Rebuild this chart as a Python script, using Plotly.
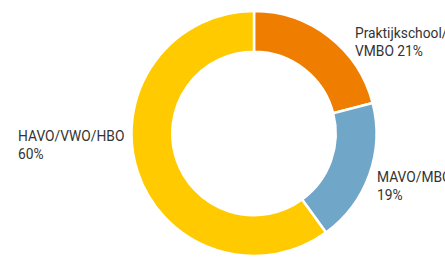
import plotly.graph_objects as go

categories = ["Praktijkschool/", "MAVO/MBO", "HAVO/VWO/HBO"]
label_line2 = ["VMBO {v}%", "{v}%", "{v}%"]
values = [21, 19, 60]
colors = ["#ef7d00", "#70a6c8", "#ffcb00"]

W, H = 445, 260
cx, cy, r = 254, 133.5, 122.5

fig = go.Figure(go.Pie(
    labels=categories, values=values, sort=False, direction="clockwise",
    rotation=0, hole=0.667, textinfo="none", hoverinfo="label+percent",
    marker=dict(colors=colors, line=dict(color="white", width=2.5)),
    domain=dict(x=[(cx - r) / W, (cx + r) / W], y=[1 - (cy + r) / H, 1 - (cy - r) / H]),
    showlegend=False,
))

# label positions (pixels): left edge, middle of first line
label_pos = [(354, 33), (376, 177), (17, 136)]
spacing = 18
font = dict(family="Roboto, Liberation Sans, Arial", size=13.8, color="#333333")
for cat, l2, v, (lx, ly) in zip(categories, label_line2, values, label_pos):
    for i, txt in enumerate([cat, l2.format(v=v)]):
        fig.add_annotation(
            x=lx / W, y=1 - (ly + i * spacing) / H, xref="paper", yref="paper",
            text=txt, showarrow=False, xanchor="left", yanchor="middle", align="left",
            font=font, borderpad=0,
        )

fig.update_layout(
    width=W, height=H, margin=dict(l=0, r=0, t=0, b=0),
    paper_bgcolor="white", plot_bgcolor="white",
)
fig.write_html("out.html", config={"displayModeBar": False},
               post_script="document.body.style.margin='0';")
